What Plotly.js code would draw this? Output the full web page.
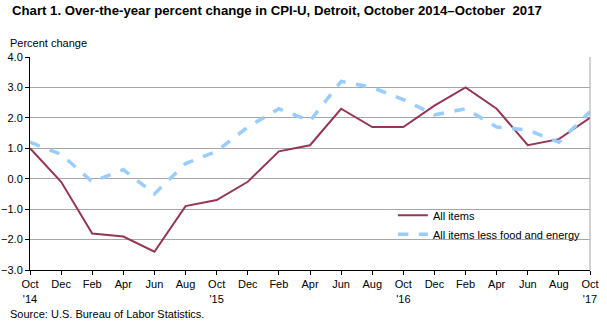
<!DOCTYPE html>
<html><head><meta charset="utf-8">
<script src="https://cdn.plot.ly/plotly-3.0.1.min.js"></script>
<style>html,body{margin:0;padding:0;background:#fff}#c{width:607px;height:326px}</style>
</head><body><div id="c"></div>
<script>
const tickLabels = ["Oct<br>'14","Dec","Feb","Apr","Jun","Aug","Oct<br>'15","Dec","Feb","Apr","Jun","Aug","Oct<br>'16","Dec","Feb","Apr","Jun","Aug","Oct<br>'17"];
const allItems = [1.0,-0.1,-1.8,-1.9,-2.4,-0.9,-0.7,-0.1,0.9,1.1,2.3,1.7,1.7,2.4,3.0,2.3,1.1,1.3,2.0];
const coreItems = [1.2,0.8,-0.1,0.3,-0.5,0.5,0.9,1.7,2.3,1.9,3.2,3.0,2.6,2.1,2.3,1.7,1.6,1.2,2.2];
const idx = tickLabels.map((_, i) => i);
const font = {family:'Liberation Sans, Arial, sans-serif', size:11, color:'#000'};
const traces = [
  {x: idx, y: allItems, name: 'All items', type:'scatter', mode:'lines',
   line:{color:'#953558', width:2}},
  {x: idx, y: coreItems, name: 'All items less food and energy', type:'scatter', mode:'lines',
   line:{color:'#99ccff', width:3.5, dash:'dash'}}
];
const layout = {
  width:607, height:326, paper_bgcolor:'#fff', plot_bgcolor:'#fff',
  margin:{l:30, r:17, t:57, b:56},
  font: font,
  showlegend:true,
  legend:{x:0.648, y:0.325, xanchor:'left', yanchor:'top', bgcolor:'rgba(0,0,0,0)',
          font:{family:'Liberation Sans, Arial, sans-serif', size:11, color:'#000'},
          tracegroupgap:0, itemwidth:30},
  xaxis:{range:[0,18], tickvals:idx, ticktext:tickLabels, showgrid:false, zeroline:false,
         showline:true, linecolor:'#000', linewidth:1, ticks:'outside', ticklen:4, tickcolor:'#000',
         tickfont:font, fixedrange:true, mirror:false},
  xaxis2:{range:[0,18], overlaying:'x', tickvals:idx, showticklabels:false, showgrid:false,
          zeroline:false, ticks:'inside', ticklen:4, tickcolor:'#000', side:'bottom', anchor:'y'},
  yaxis:{range:[-3,4], dtick:1, tick0:0, tickformat:'.1f', showgrid:true, gridcolor:'#a6a6a6',
         gridwidth:1, zeroline:false, showline:true, linecolor:'#000', linewidth:1,
         ticks:'outside', ticklen:4, tickcolor:'#000', tickfont:font, fixedrange:true},
  shapes:[
    {type:'line', xref:'paper', yref:'paper', x0:1, x1:1, y0:0, y1:1, line:{color:'#a6a6a6', width:1}}
  ],
  annotations:[
    {text:'<b>Chart 1. Over-the-year percent change in CPI-U, Detroit, October 2014\u2013October  2017</b>',
     xref:'paper', yref:'paper', x:-0.036, y:1.22, xanchor:'left', yanchor:'middle', showarrow:false,
     font:{family:'Liberation Sans, Arial, sans-serif', size:13.2, color:'#000'}},
    {text:'Percent change', xref:'paper', yref:'paper', x:-0.04, y:1.065, xanchor:'left', yanchor:'middle',
     showarrow:false, font:font},
    {text:'Source: U.S. Bureau of Labor Statistics.', xref:'paper', yref:'paper', x:-0.04, y:-0.205,
     xanchor:'left', yanchor:'middle', showarrow:false, font:font}
  ]
};
Plotly.newPlot('c', traces, layout, {displayModeBar:false, staticPlot:true});
</script></body></html>
